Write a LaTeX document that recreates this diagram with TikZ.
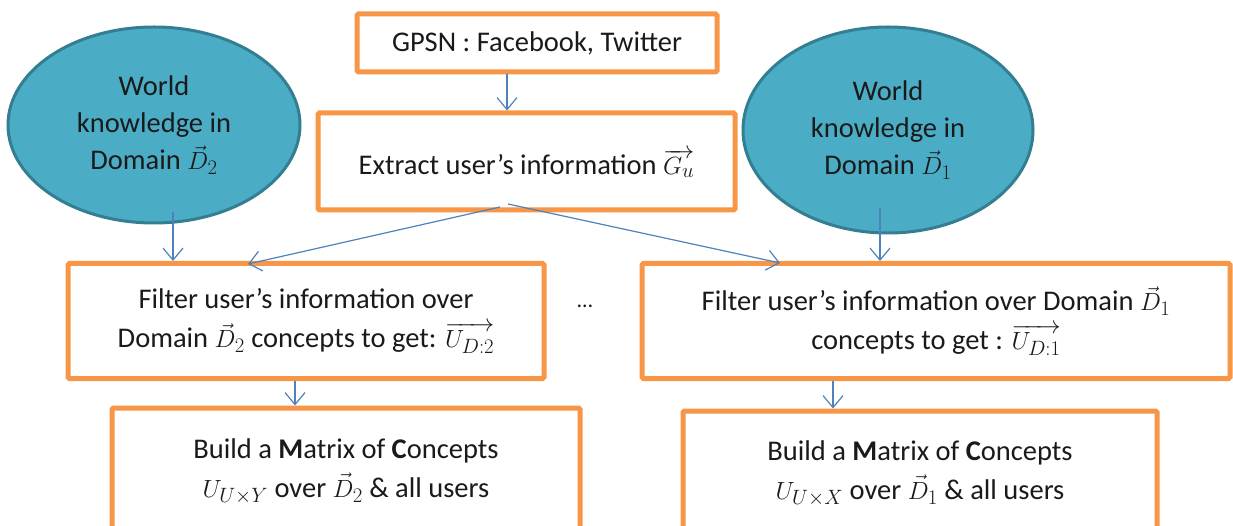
\documentclass[tikz,border=0pt]{standalone}
\usepackage{fontspec}
\setmainfont{Carlito}
\usetikzlibrary{shapes.geometric,arrows.meta}
\definecolor{orng}{HTML}{F79646}
\definecolor{ellfill}{HTML}{4BACC6}
\definecolor{elldraw}{HTML}{337E91}
\definecolor{arr}{HTML}{4F81BD}
\definecolor{txt}{HTML}{1A1A1A}
\begin{document}
\begin{tikzpicture}[x=1pt,y=-1pt,
  box/.style={draw=orng, line width=5pt, rounded corners=1.5pt, fill=white,
    inner sep=0pt, align=center, font=\fontsize{28.5}{39}\selectfont, text=txt},
  ell/.style={ellipse, draw=elldraw, line width=3pt, fill=ellfill,
    inner sep=0pt, align=center, font=\fontsize{28.5}{37}\selectfont, text=txt},
  conn/.style={draw=arr, line width=1.2pt, -{Straight Barb[length=12pt,width=20pt]}}]
\useasboundingbox (0,0) rectangle (1233,526);
\clip (0,0) rectangle (1233,526);

% nodes
\node[box, minimum width=360pt, minimum height=58pt] (gpsn) at (537,43)
  {GPSN : Facebook, Twitter};
\node[box, minimum width=417pt, minimum height=97pt, text depth=-4pt] (extract) at (526.5,161.5)
  {Extract user’s information $\overrightarrow{G_u}$};
\node[ell, minimum width=292pt, minimum height=196pt] (ell2) at (154,125)
  {World\\knowledge in\\Domain $\vec{D}_2$};
\node[ell, minimum width=290pt, minimum height=206pt] (ell1) at (888,130)
  {World\\knowledge in\\Domain $\vec{D}_1$};
\node[box, minimum width=476pt, minimum height=115pt] (filtL) at (306,321)
  {Filter user’s information over\\Domain $\vec{D}_2$ concepts to get: $\overrightarrow{U_{D:2}}$};
\node[box, minimum width=588pt, minimum height=115pt] (filtR) at (936,321)
  {Filter user’s information over Domain $\vec{D}_1$\\concepts to get : $\overrightarrow{U_{D:1}}$};
\node[font=\fontsize{22}{26}\selectfont, text=txt, inner sep=0pt] (dots) at (585,306) {…};
\node[box, minimum width=468pt, minimum height=127pt] (buildL) at (346,471.5)
  {Build a \textbf{M}atrix of \textbf{C}oncepts\\$U_{U\times Y}$ over $\vec{D}_2$ \& all users};
\node[box, minimum width=474pt, minimum height=125pt] (buildR) at (920,473.5)
  {Build a \textbf{M}atrix of \textbf{C}oncepts\\$U_{U\times X}$ over $\vec{D}_1$ \& all users};

% connector end points
\coordinate (c1) at (507,0);
\coordinate (s2) at (173,212);
\coordinate (s1) at (880,208);
\coordinate (e1) at (500,207);
\coordinate (e2) at (508,204);
\coordinate (t1) at (248,264);
\coordinate (t2) at (780,263);
\coordinate (c3) at (295,0);
\coordinate (c4) at (833,0);

% connectors
\draw[conn] (gpsn.south -| c1) -- (extract.north -| c1);
\draw[conn] (s2) -- (filtL.north -| s2);
\draw[conn] (s1) -- (filtR.north -| s1);
\draw[conn] (e1) -- (t1);
\draw[conn] (e2) -- (t2);
\draw[conn] (filtL.south -| c3) -- (buildL.north -| c3);
\draw[conn] (filtR.south -| c4) -- (buildR.north -| c4);
\end{tikzpicture}
\end{document}
